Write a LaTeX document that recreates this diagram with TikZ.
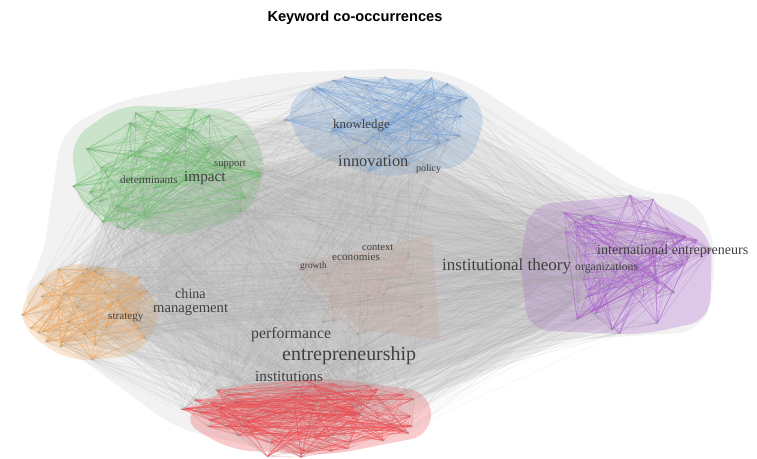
\documentclass[tikz,border=0pt]{standalone}
\usepackage{amsmath}
\usepackage{amssymb}
\usepackage{fontspec}
\setmainfont{Liberation Serif}
\newfontfamily\kwtitlefont{Liberation Sans}
\usetikzlibrary{calc,positioning}

\definecolor{kwgreen}{RGB}{105,190,105}
\definecolor{kwblue}{RGB}{115,160,215}
\definecolor{kwpurple}{RGB}{170,95,205}
\definecolor{kworange}{RGB}{238,165,90}
\definecolor{kwred}{RGB}{238,70,75}
\definecolor{kwbrown}{RGB}{205,172,160}

% dots of one cluster: name, count, centre x, centre y, radius x, radius y, first id
\newcommand{\kwCluster}[7]{%
  \foreach \i in {1,...,#2}{%
    \pgfmathsetmacro{\kwang}{360*rnd}%
    \pgfmathsetmacro{\kwrad}{sqrt(rnd)}%
    \pgfmathtruncatemacro{\kwid}{#7+\i}%
    \coordinate[alias=n\kwid] (#1\i) at ({#3+#5*\kwrad*cos(\kwang)},{#4+#6*\kwrad*sin(\kwang)});
  }}
% links inside one cluster: name, count, links per dot, style
\newcommand{\kwLinks}[4]{%
  \foreach \i in {1,...,#2}{\foreach \k in {1,...,#3}{%
    \pgfmathtruncatemacro{\kwj}{random(1,#2)}%
    \draw[#4] (#1\i) -- (#1\kwj);}}}

\begin{document}
\begin{tikzpicture}[x=0.03cm,y=-0.03cm,
    kwlabel/.style={inner sep=0pt,anchor=west,text=black!75},
    grayedge/.style={gray!70,opacity=0.2,line width=0.25pt},
    clusteredge/.style={#1,opacity=0.45,line width=0.3pt},
    tint/.style={#1,opacity=0.28,rounded corners=18}]
  \useasboundingbox (0,0) rectangle (757,459);
  \pgfmathsetseed{4711}

  % grey body of the network
  \fill[gray!10,rounded corners=20] (18,300) -- (42,262) -- (62,130) -- (120,100) -- (275,73) -- (410,68) -- (458,75) -- (495,98) -- (640,192) -- (692,196) -- (716,240) -- (712,300) -- (700,332) -- (530,342) -- (436,402) -- (300,458) -- (175,428) -- (80,358) -- cycle;
  \fill[gray,opacity=0.12,rounded corners=30] (60,300) -- (130,175) -- (300,110) -- (460,125) -- (640,230) -- (640,310) -- (460,385) -- (300,430) -- (150,370) -- cycle;
  \fill[gray,opacity=0.15,rounded corners=40] (100,290) -- (165,190) -- (380,140) -- (600,250) -- (570,320) -- (440,370) -- (300,405) -- (150,350) -- cycle;
  \fill[gray,opacity=0.1,rounded corners=40] (140,280) -- (200,210) -- (380,165) -- (560,250) -- (530,310) -- (420,350) -- (300,380) -- (180,335) -- cycle;

  % cluster tints
  \fill[tint=kwgreen] (70,140) -- (120,105) -- (240,110) -- (268,160) -- (250,215) -- (170,238) -- (80,210) -- cycle;
  \fill[tint=kwblue] (285,100) -- (330,78) -- (450,80) -- (488,110) -- (470,165) -- (380,178) -- (300,150) -- cycle;
  \fill[tint=kwpurple] (530,205) -- (640,195) -- (712,235) -- (710,320) -- (640,335) -- (528,330) -- (520,260) -- cycle;
  \fill[tint=kworange] (20,300) -- (60,262) -- (130,270) -- (165,310) -- (140,355) -- (70,362) -- (22,330) -- cycle;
  \fill[tint=kwred] (180,420) -- (230,385) -- (330,378) -- (430,392) -- (432,435) -- (330,455) -- (230,450) -- cycle;
  \fill[kwbrown,opacity=0.35] (295,265) -- (432,235) -- (440,340) -- (360,330) -- cycle;

  % keyword dots
  \kwCluster{g}{45}{165}{172}{100}{66}{0}
  \kwCluster{b}{35}{380}{122}{105}{52}{45}
  \kwCluster{p}{45}{622}{265}{92}{70}{80}
  \kwCluster{o}{35}{88}{310}{72}{52}{125}
  \kwCluster{r}{55}{302}{418}{128}{40}{160}
  \kwCluster{c}{20}{365}{285}{72}{50}{215}

  % links between clusters
  \foreach \k in {1,...,1800}{%
    \pgfmathtruncatemacro{\kwa}{random(1,235)}%
    \pgfmathtruncatemacro{\kwb}{random(1,235)}%
    \draw[grayedge] (n\kwa) -- (n\kwb);}

  % links inside clusters
  \kwLinks{g}{45}{7}{clusteredge=kwgreen}
  \kwLinks{b}{35}{7}{clusteredge=kwblue}
  \kwLinks{p}{45}{7}{clusteredge=kwpurple}
  \kwLinks{o}{35}{7}{clusteredge=kworange}
  \kwLinks{r}{55}{8}{clusteredge=kwred}
  \kwLinks{c}{20}{3}{clusteredge=kwbrown}

  \foreach \i in {1,...,235}
    \fill[gray!75] (n\i) circle (0.8pt);

  % keywords
  \node[kwlabel,font=\fontsize{11}{11}\selectfont] (knowledge) at (333,125) {knowledge};
  \node[kwlabel,font=\fontsize{14}{14}\selectfont] (innovation) at (338,161) {innovation};
  \node[kwlabel,font=\fontsize{8.5}{9}\selectfont] (policy) at (416,169) {policy};
  \node[kwlabel,font=\fontsize{9.5}{10}\selectfont] (determinants) at (120,180) {determinants};
  \node[kwlabel,font=\fontsize{13}{13}\selectfont] (impact) at (184,178) {impact};
  \node[kwlabel,font=\fontsize{9}{10}\selectfont] (support) at (214,165) {support};
  \node[kwlabel,font=\fontsize{9}{9}\selectfont] (context) at (362,248) {context};
  \node[kwlabel,font=\fontsize{9.5}{10}\selectfont] (economies) at (332,257) {economies};
  \node[kwlabel,font=\fontsize{8}{8}\selectfont] (growth) at (300,266) {growth};
  \node[kwlabel,font=\fontsize{14.5}{15}\selectfont] (insttheory) at (442,266) {institutional theory};
  \node[kwlabel,font=\fontsize{10}{10}\selectfont] (organizations) at (575,268) {organizations};
  \node[kwlabel,font=\fontsize{12}{12}\selectfont] (intentrep) at (597,251) {international entrepreneurs};
  \node[kwlabel,font=\fontsize{12}{12}\selectfont] (china) at (175,294) {china};
  \node[kwlabel,font=\fontsize{12.5}{13}\selectfont] (management) at (153,310) {management};
  \node[kwlabel,font=\fontsize{9.5}{10}\selectfont] (strategy) at (108,318) {strategy};
  \node[kwlabel,font=\fontsize{13.5}{14}\selectfont] (performance) at (251,335) {performance};
  \node[kwlabel,font=\fontsize{17}{17}\selectfont] (entrepreneurship) at (282,356) {entrepreneurship};
  \node[kwlabel,font=\fontsize{13}{13}\selectfont] (institutions) at (255,377) {institutions};

  \node[font=\kwtitlefont\bfseries\fontsize{12.5}{14}\selectfont] (title) at (355,18) {Keyword co-occurrences};
\end{tikzpicture}
\end{document}
